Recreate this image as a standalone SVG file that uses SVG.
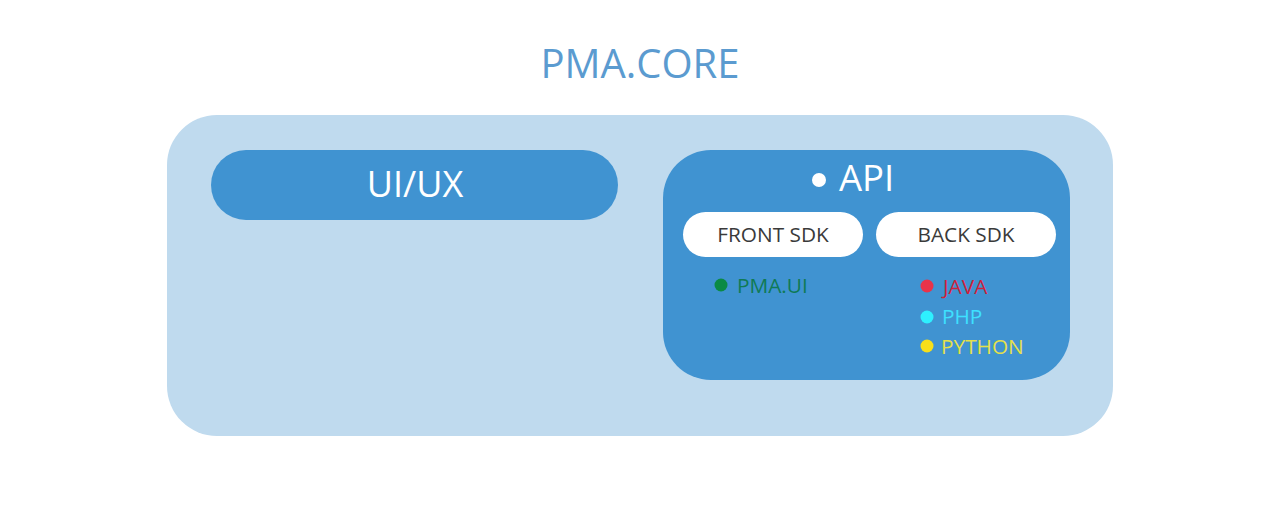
<svg xmlns="http://www.w3.org/2000/svg" width="1280" height="528" viewBox="0 0 1280 528">
<style>
text{font-family:"Open Sans","Noto Sans","Liberation Sans",sans-serif}
.blue{fill:#4093d1}
.pill{fill:#ffffff}
.pt{font-size:20.8px;fill:#3a3a3a;text-anchor:middle}
.it{font-size:20.8px}
</style>
<rect width="1280" height="528" fill="#ffffff"/>
<text x="640" y="78" font-size="40" fill="#5b9bd0" text-anchor="middle">PMA.CORE</text>
<g id="core">
<rect x="167" y="115" width="946" height="321" rx="50" fill="#bfdaee"/>
</g>
<g id="uiux">
<rect class="blue" x="211" y="150" width="407" height="70" rx="35"/>
<text x="415" y="197" font-size="36" fill="#ffffff" text-anchor="middle">UI/UX</text>
</g>
<g id="api">
<rect class="blue" x="663" y="150" width="407" height="230" rx="48"/>
<circle cx="819" cy="180" r="7" fill="#ffffff"/>
<text x="839" y="191" font-size="36.5" fill="#ffffff">API</text>
</g>
<g id="front-sdk">
<rect class="pill" x="683" y="212" width="180" height="45" rx="22.5"/>
<text class="pt" x="773" y="242">FRONT SDK</text>
</g>
<g id="back-sdk">
<rect class="pill" x="876" y="212" width="180" height="45" rx="22.5"/>
<text class="pt" x="966" y="242">BACK SDK</text>
</g>
<g id="pma-ui">
<circle cx="721" cy="285" r="6.5" fill="#0a8a44"/>
<text class="it" x="737" y="293" fill="#0f7a55">PMA.UI</text>
</g>
<g id="java">
<circle cx="927" cy="286" r="6.5" fill="#e8334a"/>
<text class="it" x="943" y="294" fill="#d0213a">JAVA</text>
</g>
<g id="php">
<circle cx="927" cy="317" r="6.5" fill="#2ef0ff"/>
<text class="it" x="942" y="324" fill="#3ee0ff">PHP</text>
</g>
<g id="python">
<circle cx="927" cy="346" r="6.5" fill="#f6df1a"/>
<text class="it" x="941" y="354" fill="#e4e04a">PYTHON</text>
</g>
<g id="connectors"/>
</svg>
